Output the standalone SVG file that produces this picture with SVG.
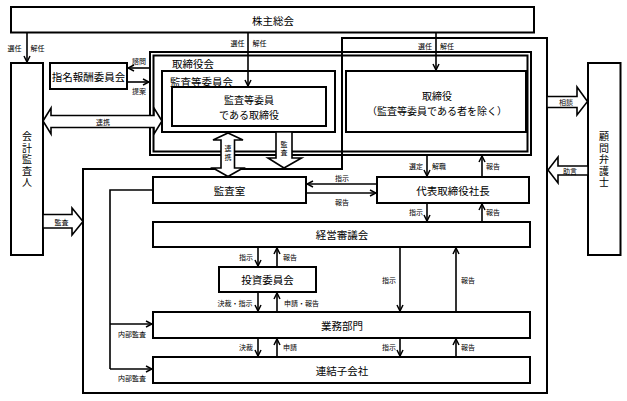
<svg xmlns="http://www.w3.org/2000/svg" width="627" height="401" viewBox="0 0 627 401">
<defs>
<marker id="ah" viewBox="0 0 8 8" refX="7" refY="4" markerWidth="8" markerHeight="8" orient="auto" markerUnits="userSpaceOnUse">
<path d="M1,1 L7,4 L1,7" fill="none" stroke="#000" stroke-width="1.5"/>
</marker>
<style>
.box{fill:#fff;stroke:#000;stroke-width:2}
.nof{fill:none;stroke:#000;stroke-width:2}
.ln{fill:none;stroke:#000;stroke-width:1.6}
.ar{fill:none;stroke:#000;stroke-width:1.6;marker-end:url(#ah)}
.blk{fill:#fff;stroke:#000;stroke-width:1.6;stroke-linejoin:miter}
.t{font-family:"Noto Sans CJK JP","Noto Sans CJK SC",sans-serif;font-size:10.5px;text-anchor:middle;dominant-baseline:central;fill:#000}
.t2{font-family:"Noto Sans CJK JP","Noto Sans CJK SC",sans-serif;font-size:10px;text-anchor:middle;dominant-baseline:central;fill:#000}
.v{font-family:"Noto Sans CJK JP","Noto Sans CJK SC",sans-serif;font-size:10px;text-anchor:middle;writing-mode:vertical-rl;text-orientation:upright;letter-spacing:1.5px;fill:#000}
.sv{font-family:"Noto Sans CJK JP","Noto Sans CJK SC",sans-serif;font-size:7px;text-anchor:middle;writing-mode:vertical-rl;text-orientation:upright;letter-spacing:1.5px;fill:#000}
.tl{font-family:"Noto Sans CJK JP","Noto Sans CJK SC",sans-serif;font-size:10.5px;text-anchor:start;dominant-baseline:central;fill:#000}
.s{font-family:"Noto Sans CJK JP","Noto Sans CJK SC",sans-serif;font-size:7px;text-anchor:middle;dominant-baseline:central;fill:#000}
</style>
</defs>
<rect width="627" height="401" fill="#fff"/>

<g id="kabunushi"><rect class="box" x="11" y="7" width="523" height="25.5"/><text class="t" x="273" y="20">株主総会</text></g>
<g id="kaikei"><rect class="box" x="11" y="63" width="32" height="192"/><text class="v" x="27" y="160">会計監査人</text></g>
<g id="komon"><rect class="box" x="588" y="63" width="32.5" height="192"/><text class="v" x="604" y="160">顧問弁護士</text></g>
<g id="shimei"><rect class="box" x="50" y="63" width="77" height="26"/><text class="t" x="88.5" y="76">指名報酬委員会</text></g>
<g id="torishimariyakukai"><rect class="box" x="150" y="52" width="381" height="103"/><rect class="nof" x="153.5" y="55.5" width="374" height="96"/><text class="tl" x="172" y="63">取締役会</text></g>
<g id="kansatoiinkai"><rect class="box" x="162" y="71" width="173" height="61"/><text class="tl" x="170" y="81">監査等委員会</text></g>
<g id="kansatoiin"><rect class="box" x="172" y="87" width="154" height="39"/><text class="t2"><tspan x="249" y="99">監査等委員</tspan><tspan x="249" y="114">である取締役</tspan></text></g>
<g id="torishimariyaku"><rect class="box" x="346" y="71" width="180" height="61"/><text class="t2"><tspan x="437" y="95">取締役</tspan><tspan x="437" y="110">（監査等委員である者を除く）</tspan></text></g>

<g id="frame"><polygon class="nof" points="83,169 342,169 342,38 547,38 547,393 83,393"/></g>

<g id="kansashitsu"><rect class="box" x="153" y="177" width="153" height="26"/><text class="t" x="229.5" y="190">監査室</text></g>
<g id="daihyo"><rect class="box" x="377" y="177" width="152" height="26"/><text class="t" x="453" y="190">代表取締役社長</text></g>
<g id="keiei"><rect class="box" x="153" y="222" width="377" height="25"/><text class="t" x="342" y="234.5">経営審議会</text></g>
<g id="toshi"><rect class="box" x="219" y="267" width="97" height="25"/><text class="t" x="267.5" y="279.5">投資委員会</text></g>
<g id="gyomu"><rect class="box" x="153" y="312" width="377" height="26"/><text class="t" x="342" y="325">業務部門</text></g>
<g id="renketsu"><rect class="box" x="153" y="357" width="377" height="26"/><text class="t" x="342" y="370">連結子会社</text></g>

<g id="connectors">
<line class="ar" x1="27" y1="33" x2="27" y2="62"/>
<line class="ar" x1="248" y1="33" x2="248" y2="86"/>
<line class="ar" x1="436" y1="33" x2="436" y2="70"/>
<line class="ar" x1="150" y1="68" x2="128" y2="68"/>
<line class="ar" x1="127" y1="82" x2="149" y2="82"/>
<line class="ar" x1="377" y1="184" x2="307" y2="184"/>
<line class="ar" x1="306" y1="193" x2="376" y2="193"/>
<line class="ar" x1="427" y1="156" x2="427" y2="176"/>
<line class="ar" x1="482" y1="177" x2="482" y2="156"/>
<line class="ar" x1="427" y1="203" x2="427" y2="221"/>
<line class="ar" x1="482" y1="222" x2="482" y2="204"/>
<line class="ar" x1="258" y1="247" x2="258" y2="266"/>
<line class="ar" x1="277" y1="267" x2="277" y2="248"/>
<line class="ar" x1="258" y1="292" x2="258" y2="311"/>
<line class="ar" x1="277" y1="312" x2="277" y2="293"/>
<line class="ar" x1="258" y1="338" x2="258" y2="356"/>
<line class="ar" x1="277" y1="357" x2="277" y2="339"/>
<line class="ar" x1="400" y1="247" x2="400" y2="311"/>
<line class="ar" x1="456" y1="312" x2="456" y2="248"/>
<line class="ar" x1="400" y1="338" x2="400" y2="356"/>
<line class="ar" x1="456" y1="357" x2="456" y2="339"/>
<polyline class="ln" points="153,190 110,190 110,369"/>
<line class="ar" x1="110" y1="324" x2="152" y2="324"/>
<line class="ar" x1="110" y1="369" x2="152" y2="369"/>
<polygon class="blk" points="43,121 51,108 51,115.5 154,115.5 154,108 162,121 154,134 154,127.5 51,127.5 51,134"/>
<polygon class="blk" points="228,133 243,140 234.5,140 234.5,168 243,168 228,176.5 213,168 221,168 221,140 213,140"/>
<polygon class="blk" points="276,132 292,132 292,158 301.5,158 284,168 268,158 276,158"/>
<polygon class="blk" points="43,214.5 72,214.5 72,208 83,221.5 72,235 72,228 43,228"/>
<polygon class="blk" points="547,96.5 577,96.5 577,87 587.5,101.5 577,115 577,107.5 547,107.5"/>
<polygon class="blk" points="588,166 558,166 558,157 548,170 558,183 558,175 588,175"/>
<text class="s" x="14.5" y="47.5">選任</text><text class="s" x="37.5" y="47.5">解任</text>
<text class="s" x="237.5" y="43">選任</text><text class="s" x="259.5" y="43">解任</text>
<text class="s" x="425" y="46">選任</text><text class="s" x="447" y="46">解任</text>
<text class="s" x="139" y="61">諮問</text><text class="s" x="139" y="91">提案</text>
<text class="s" x="103" y="121.5">連携</text>
<text class="sv" x="228" y="153.5">連携</text>
<text class="sv" x="284" y="149">監査</text>
<text class="s" x="342" y="177.5">指示</text><text class="s" x="342" y="201.5">報告</text>
<text class="s" x="416" y="166">選定</text><text class="s" x="439" y="166">解職</text><text class="s" x="493" y="166">報告</text>
<text class="s" x="416" y="212">指示</text><text class="s" x="493" y="212">報告</text>
<text class="s" x="246" y="257">指示</text><text class="s" x="290" y="257">報告</text>
<text class="s" x="235" y="303">決裁・指示</text><text class="s" x="301.5" y="303">申請・報告</text>
<text class="s" x="246" y="347">決裁</text><text class="s" x="290" y="347">申請</text>
<text class="s" x="389" y="280">指示</text><text class="s" x="468" y="280">報告</text>
<text class="s" x="389" y="347">指示</text><text class="s" x="468" y="347">報告</text>
<text class="s" x="132" y="333.5">内部監査</text><text class="s" x="132" y="377.5">内部監査</text>
<text class="s" x="61.5" y="221.5">監査</text>
<text class="s" x="566" y="102">相談</text>
<text class="s" x="570" y="170.5">助言</text>
</g>
</svg>
